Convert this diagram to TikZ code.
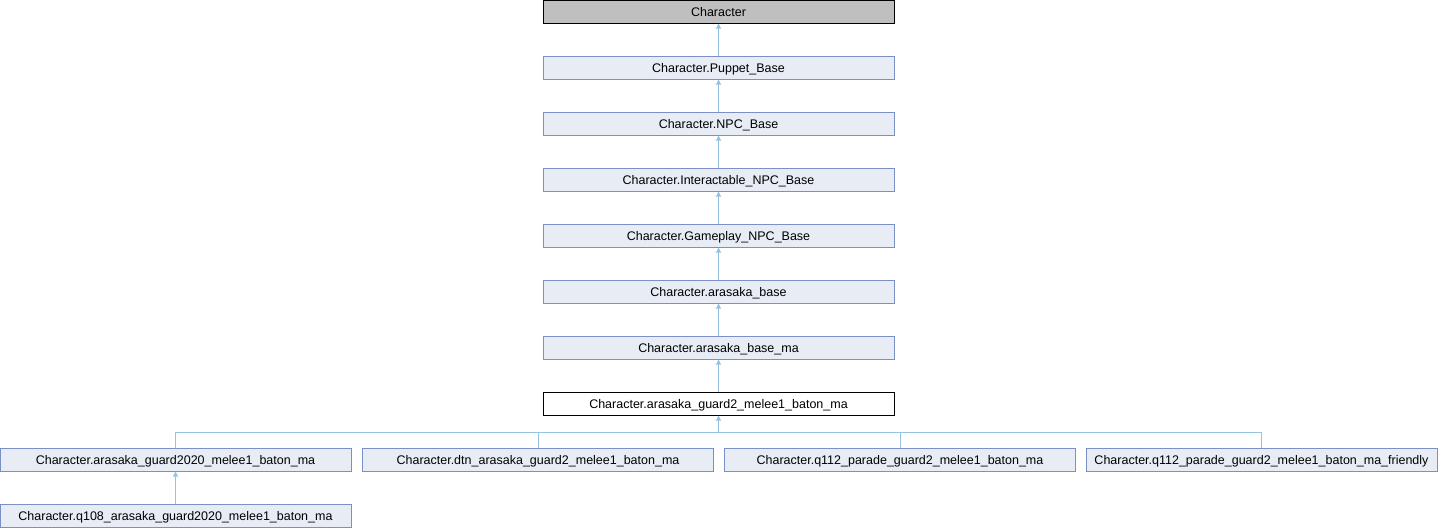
\documentclass[tikz,border=0pt]{standalone}
\usepackage{fontspec}
\setmainfont{Liberation Sans}
\usetikzlibrary{arrows.meta}
\definecolor{boxfill}{RGB}{232,236,245}
\definecolor{boxdraw}{RGB}{124,144,200}
\definecolor{edgecol}{RGB}{148,196,226}
\definecolor{rootfill}{RGB}{191,191,191}
\tikzset{
  cls/.style={draw=boxdraw, fill=boxfill, line width=1pt, minimum width=351pt, minimum height=23pt,
    inner sep=0pt, text height=9pt, text depth=0pt, font=\fontsize{12.5}{15}\selectfont, anchor=center},
  rootcls/.style={cls, draw=black, fill=rootfill},
  curcls/.style={cls, draw=black, fill=white},
  inh/.style={draw=edgecol, line width=1pt, -{Triangle[length=5pt,width=5pt,fill=edgecol]}},
  lnk/.style={draw=edgecol, line width=1pt}
}
\begin{document}
\begin{tikzpicture}[x=1pt,y=-1pt]
\useasboundingbox (0,0) rectangle (1438,528);
\node[rootcls] (n0) at (718.5,11.5) {Character};
\node[cls] (n1) at (718.5,67.5) {Character.Puppet\_Base};
\node[cls] (n2) at (718.5,123.5) {Character.NPC\_Base};
\node[cls] (n3) at (718.5,179.5) {Character.Interactable\_NPC\_Base};
\node[cls] (n4) at (718.5,235.5) {Character.Gameplay\_NPC\_Base};
\node[cls] (n5) at (718.5,291.5) {Character.arasaka\_base};
\node[cls] (n6) at (718.5,347.5) {Character.arasaka\_base\_ma};
\node[curcls] (n7) at (718.5,403.5) {Character.arasaka\_guard2\_melee1\_baton\_ma};
\node[cls] (c1) at (175.5,459.5) {Character.arasaka\_guard2020\_melee1\_baton\_ma};
\node[cls] (c2) at (538,459.5) {Character.dtn\_arasaka\_guard2\_melee1\_baton\_ma};
\node[cls] (c3) at (900,459.5) {Character.q112\_parade\_guard2\_melee1\_baton\_ma};
\node[cls] (c4) at (1261.5,459.5) {Character.q112\_parade\_guard2\_melee1\_baton\_ma\_friendly};
\node[cls] (g1) at (175.5,515.5) {Character.q108\_arasaka\_guard2020\_melee1\_baton\_ma};
\coordinate (j) at (718.5,432.5);
\draw[inh] (n1) -- (n0);
\draw[inh] (n2) -- (n1);
\draw[inh] (n3) -- (n2);
\draw[inh] (n4) -- (n3);
\draw[inh] (n5) -- (n4);
\draw[inh] (n6) -- (n5);
\draw[inh] (n7) -- (n6);
\draw[lnk] (c1.north) |- (j);
\draw[lnk] (c2.north) |- (j);
\draw[lnk] (c3.north) |- (j);
\draw[lnk] (c4.north) |- (j);
\draw[inh] (j) -- (n7.south);
\draw[inh] (g1) -- (c1);
\end{tikzpicture}
\end{document}
